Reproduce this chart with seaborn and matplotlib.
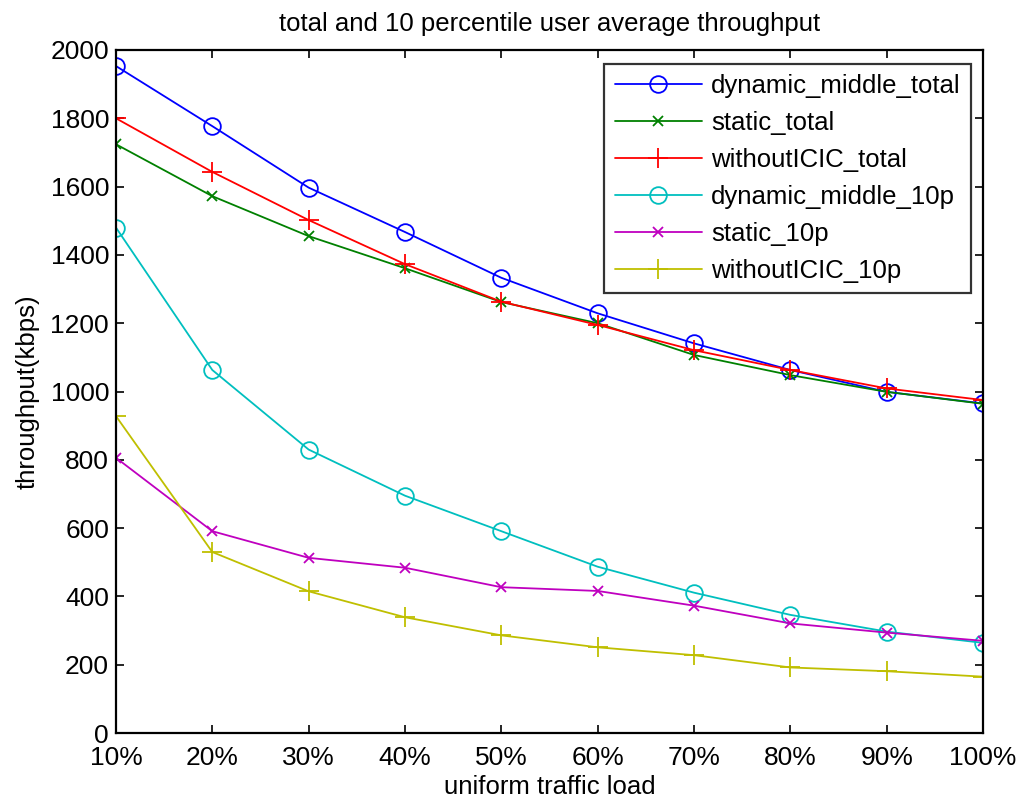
import matplotlib
matplotlib.use("Agg")
import matplotlib.pyplot as plt
import seaborn as sns
import pandas as pd

loads = [10, 20, 30, 40, 50, 60, 70, 80, 90, 100]
load_labels = ["10%", "20%", "30%", "40%", "50%", "60%", "70%", "80%", "90%", "100%"]

dynamic_middle_total = [1953, 1777, 1597, 1467, 1333, 1229, 1141, 1063, 999, 965]
static_total = [1724, 1572, 1455, 1361, 1262, 1200, 1107, 1048, 999, 964]
withoutICIC_total = [1800, 1643, 1502, 1373, 1263, 1195, 1121, 1063, 1009, 975]
dynamic_middle_10p = [1480, 1063, 830, 695, 591, 487, 411, 346, 297, 264]
static_10p = [806, 591, 513, 484, 427, 416, 373, 321, 294, 270]
withoutICIC_10p = [928, 530, 415, 339, 286, 251, 228, 192, 181, 165]

series_names = ["dynamic_middle_total", "static_total", "withoutICIC_total",
                "dynamic_middle_10p", "static_10p", "withoutICIC_10p"]
series_values = [dynamic_middle_total, static_total, withoutICIC_total,
                 dynamic_middle_10p, static_10p, withoutICIC_10p]

colors = [(0, 0, 1), (0, 0.5, 0), (1, 0, 0), (0, 0.75, 0.75), (0.75, 0, 0.75), (0.75, 0.75, 0)]
markers = ["o", "x", "+", "o", "x", "+"]
msizes = [12, 7, 14, 12, 7, 14]

sns.set_theme(style="white")
plt.rcParams["font.family"] = ["Liberation Sans", "DejaVu Sans"]
plt.rcParams["text.color"] = "black"
plt.rcParams["axes.labelcolor"] = "black"

fig = plt.figure(figsize=(10.19, 8.05), dpi=100)
ax = fig.add_axes([0.1138, 0.0894, 0.8509, 0.8485])

for name, vals, c, m, ms in zip(series_names, series_values, colors, markers, msizes):
    df = pd.DataFrame({"load": loads, "throughput": vals})
    sns.lineplot(data=df, x="load", y="throughput", ax=ax, color=c, label=name,
                 marker=m, markersize=ms, markerfacecolor="none", markeredgecolor=c,
                 markeredgewidth=1.3, linewidth=1.3)

ax.set_xlim(10, 100)
ax.set_ylim(0, 2000)
ax.set_xticks(loads)
ax.set_xticklabels(load_labels)
ax.set_yticks(range(0, 2001, 200))
ax.tick_params(axis="both", direction="in", length=6, width=1.2, labelsize=19,
               top=True, right=True, bottom=True, left=True, colors="black", pad=5)
ax.tick_params(axis="x", pad=9)
for sp in ax.spines.values():
    sp.set_visible(True)
    sp.set_color("black")
    sp.set_linewidth(1.6)

ax.set_xlabel("uniform traffic load", fontsize=18.5, labelpad=4, color="black")
ax.set_ylabel("throughput(kbps)", fontsize=18.5, labelpad=8, color="black")
ax.set_title("total and 10 percentile user average throughput", fontsize=18.5, pad=14,
             color="black")

leg = ax.legend(loc="upper right", bbox_to_anchor=(0.986, 0.9795), borderaxespad=0,
                fontsize=18.5, frameon=True, fancybox=False, handlelength=3.4,
                handletextpad=0.35, labelspacing=0.5, borderpad=0.4)
leg.get_frame().set_edgecolor("black")
leg.get_frame().set_linewidth(1.6)
for t in leg.get_texts():
    t.set_color("black")

fig.savefig("out.png", dpi=100, facecolor="white")
